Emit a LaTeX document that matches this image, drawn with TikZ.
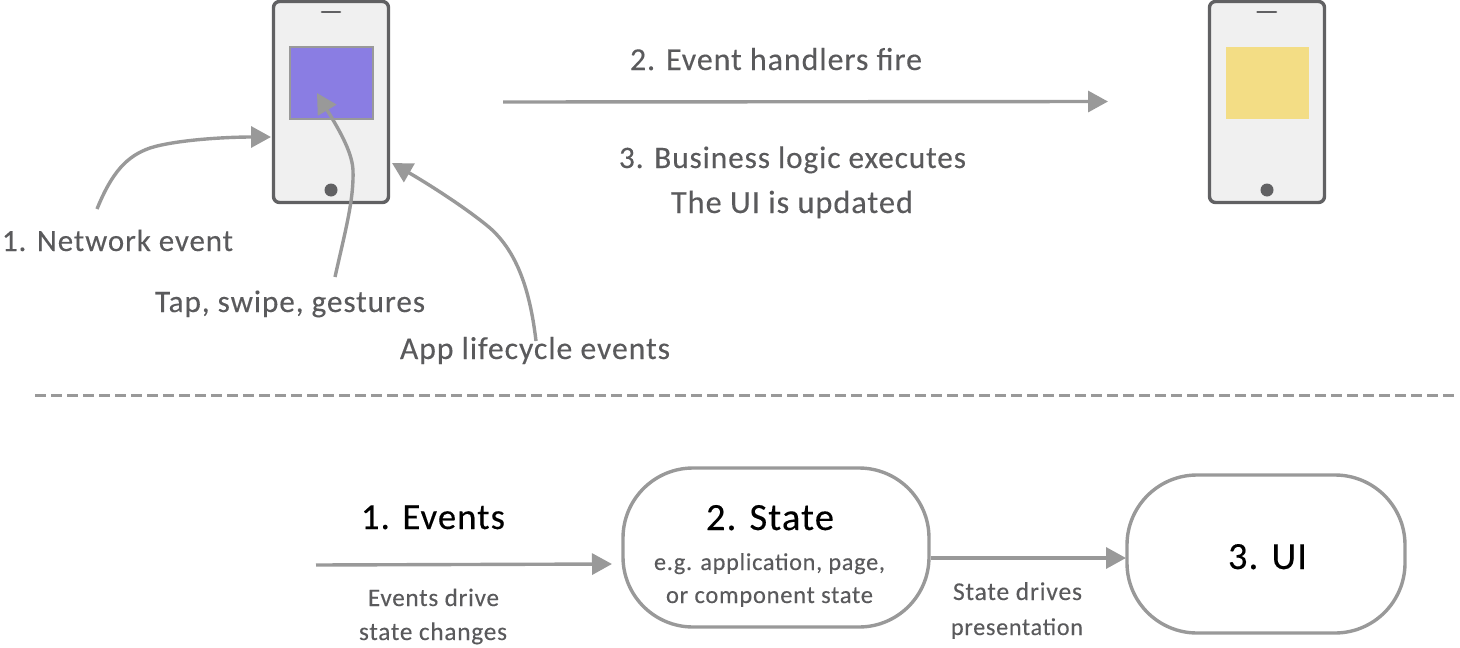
\documentclass[tikz,border=0pt]{standalone}
\usepackage{fontspec}
\usepackage{graphicx}
\setmainfont[LetterSpace=3,WordSpace=1.0,FakeBold=0.25]{Carlito}
\usetikzlibrary{arrows.meta,calc}
\definecolor{ink}{HTML}{5A5A5C}
\definecolor{edge}{HTML}{999999}
\definecolor{phoneline}{HTML}{616163}
\definecolor{phonefill}{HTML}{F0F0F0}
\definecolor{violetscreen}{HTML}{8A7DE3}
\definecolor{yellowscreen}{HTML}{F3DD85}
\newcommand{\fitw}[2]{\resizebox{#1pt}{!}{#2}}
\tikzset{
  x=1pt,y=-1pt,
  phone/.style={draw=phoneline,fill=phonefill,line width=3.4pt,rounded corners=6pt,minimum width=115pt,minimum height=201pt,inner sep=0pt},
  screen/.style={minimum width=83pt,minimum height=72pt,inner sep=0pt},
  speaker/.style={draw=phoneline,line width=2.6pt,line cap=round},
  homebtn/.style={fill=phoneline,circle,minimum size=13pt,inner sep=0pt},
  lbl/.style={anchor=base,inner sep=0pt,text=ink},
  hd/.style={anchor=base,inner sep=0pt,text=black},
  flow/.style={draw=edge,line width=3.4pt,-{Triangle[length=20pt,width=21pt]}},
  pill/.style={draw=edge,line width=3.4pt,fill=white,rounded corners=70pt,inner sep=0pt},
  sep/.style={draw=edge,line width=2.6pt,dash pattern=on 11pt off 5pt}
}
\begin{document}
\begin{tikzpicture}
\useasboundingbox (0,0) rectangle (1460,648);
% phones
\node[phone] (p1) at (331,102) {};
\node[screen,draw=edge,line width=1.5pt,fill=violetscreen] (s1) at (331.5,83) {};
\node[homebtn] (h1) at (331,190) {};
\draw[speaker] (322,12) -- (340,12);
\node[phone] (p2) at (1267,102) {};
\node[screen,fill=yellowscreen] (s2) at (1267.5,83) {};
\node[homebtn] (h2) at (1267,190) {};
\draw[speaker] (1257.5,12) -- (1276,12);
% labels top
\node[lbl] (net) at (117.5,251) {\fitw{231}{1. Network event}};
\node[lbl] (tap) at (290,312) {\fitw{270}{Tap, swipe, gestures}};
\node[lbl] (app) at (535,359) {\fitw{270}{App lifecycle events}};
\node[lbl] (fire) at (776,70) {\fitw{292}{2. Event handlers fire}};
\node[lbl] (biz) at (792.5,168) {\fitw{347}{3. Business logic executes}};
\node[lbl] (upd) at (792,213) {\fitw{242}{The UI is updated}};
% coordinates
\coordinate (netS) at (97,209);
\coordinate (netE) at (271,137);
\coordinate (tapS) at (335,277);
\coordinate (tapE) at (317,93);
\coordinate (appS) at (536,341);
\coordinate (appE) at (392,163);
\coordinate (mainS) at (503,102);
\coordinate (mainE) at (1108,101.5);
\draw[flow] (netS) .. controls (112,172) and (127,156) .. (150,148) .. controls (175,140) and (225,137) .. (netE);
\draw[flow] (tapS) .. controls (345,232) and (354,200) .. (353,170) .. controls (352,150) and (336,125) .. (tapE);
\draw[flow] (appS) .. controls (530,290) and (517,252) .. (490,228) .. controls (465,207) and (425,182) .. (appE);
\draw[flow] (mainS) -- (mainE);
% separator
\coordinate (sepL) at (35,395.5);
\coordinate (sepR) at (1455,395.5);
\draw[sep] (sepL) -- (sepR);
% bottom
\node[pill,minimum width=306pt,minimum height=159pt] (state) at (776,547.5) {};
\node[pill,minimum width=278pt,minimum height=158pt] (ui) at (1266,554) {};
\coordinate (evS) at (316,565);
\coordinate (evE) at (612,564);
\coordinate (sdS) at (929,558);
\coordinate (sdE) at (1126,558);
\draw[flow] (evS) -- (evE);
\draw[flow] (state.east |- sdS) -- (sdE);
\node[hd] (evt) at (433,529) {\fitw{144}{1. Events}};
\node[hd] (sta) at (770,530) {\fitw{128}{2. State}};
\node[lbl] (eg) at (769.5,570) {\fitw{231}{e.g. application, page,}};
\node[lbl] (cmp) at (769.5,603) {\fitw{207}{or component state}};
\node[lbl] (drv) at (433.5,606) {\fitw{131}{Events drive}};
\node[lbl] (chg) at (433,640) {\fitw{148}{state changes}};
\node[lbl] (sdr) at (1017.5,600) {\fitw{129}{State drives}};
\node[lbl] (pre) at (1017,635) {\fitw{132}{presentation}};
\node[hd] (uit) at (1267.5,569) {\fitw{79}{3. UI}};
\end{tikzpicture}
\end{document}
